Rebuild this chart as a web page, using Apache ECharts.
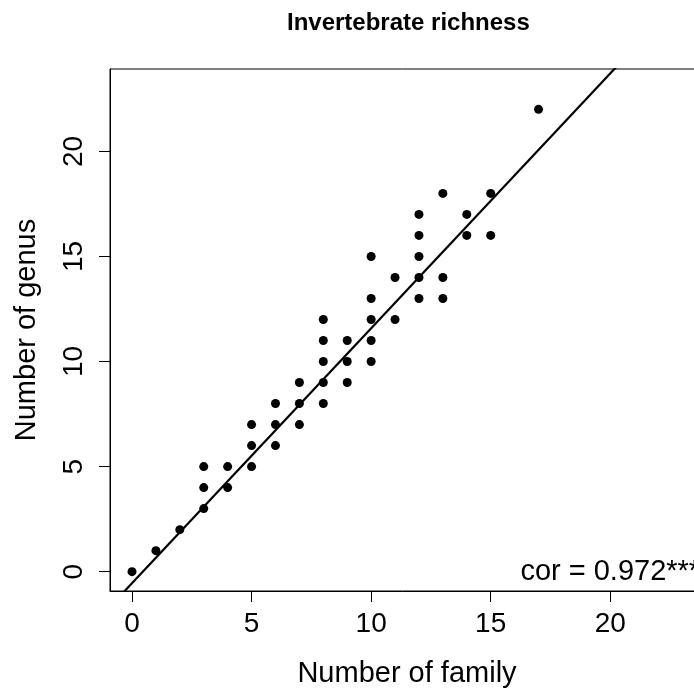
<!DOCTYPE html>
<html>
<head>
<meta charset="utf-8">
<script src="https://cdn.jsdelivr.net/npm/echarts@6/dist/echarts.min.js"></script>
<style>
html,body{margin:0;padding:0;background:#fff;}
#chart{width:694px;height:688px;}
</style>
</head>
<body>
<div id="chart"></div>
<script>
// ---- data ----
const familyCount = [0, 1, 2, 3, 3, 3, 4, 4, 5, 5, 5, 6, 6, 6, 7, 7, 7, 8, 8, 8, 8, 8, 9, 9, 9, 10, 10, 10, 10, 10, 11, 11, 12, 12, 12, 12, 12, 13, 13, 13, 14, 14, 15, 15, 17];
const genusCount  = [0, 1, 2, 3, 4, 5, 4, 5, 5, 6, 7, 6, 7, 8, 7, 8, 9, 8, 9, 10, 11, 12, 9, 10, 11, 10, 11, 12, 13, 15, 12, 14, 13, 14, 15, 16, 17, 13, 14, 18, 16, 17, 16, 18, 22];
const fitIntercept = -0.55;
const fitSlope = 1.213;
const xTicks = [0, 5, 10, 15, 20];
const yTicks = [0, 5, 10, 15, 20];
const axisLimits = [0, 23];
const corText = 'cor = 0.972***';
const corAt = [20, 0];

// R-style 4% axis extension
const ext = (axisLimits[1] - axisLimits[0]) * 0.04;
const lo = axisLimits[0] - ext, hi = axisLimits[1] + ext;

const points = familyCount.map((x, i) => [x, genusCount[i]]);
const fitLine = [lo, hi].map(x => [x, fitIntercept + fitSlope * x]);

const FONT = '"Liberation Sans", Arial, sans-serif';
const chart = echarts.init(document.getElementById('chart'), null, {renderer: 'canvas'});
chart.setOption({
  animation: false,
  backgroundColor: '#fff',
  title: {
    text: 'Invertebrate richness',
    left: 282, top: 6,
    textStyle: {fontSize: 24, fontWeight: 'bold', color: '#000', fontFamily: FONT}
  },
  grid: {
    left: 110, top: 69, width: 594, height: 522,
    show: true, borderColor: '#000', borderWidth: 1,
    containLabel: false, outerBoundsMode: 'none'
  },
  xAxis: {
    type: 'value', min: lo, max: hi,
    splitLine: {show: false},
    axisLine: {show: true, onZero: false, lineStyle: {color: '#000', width: 1}},
    axisTick: {show: true, customValues: xTicks, length: 11, lineStyle: {color: '#000'}},
    axisLabel: {customValues: xTicks, fontSize: 28, color: '#000', margin: 19, fontFamily: FONT},
    name: 'Number of family', nameLocation: 'middle', nameGap: 68,
    nameTextStyle: {fontSize: 29, color: '#000', fontFamily: FONT}
  },
  yAxis: {
    type: 'value', min: lo, max: hi,
    splitLine: {show: false},
    axisLine: {show: true, onZero: false, lineStyle: {color: '#000', width: 1}},
    axisTick: {show: true, customValues: yTicks, length: 11, lineStyle: {color: '#000'}},
    axisLabel: {customValues: yTicks, fontSize: 28, color: '#000', margin: 22, rotate: 90, fontFamily: FONT},
    name: 'Number of genus', nameLocation: 'middle', nameGap: 69, nameRotate: 90,
    nameTextStyle: {fontSize: 29, color: '#000', fontFamily: FONT}
  },
  series: [
    {
      type: 'scatter', data: points, symbol: 'circle', symbolSize: 9,
      itemStyle: {color: '#000', opacity: 1}, silent: true
    },
    {
      type: 'line', data: fitLine, showSymbol: false, clip: true,
      lineStyle: {color: '#000', width: 2.2}, silent: true
    },
    {
      type: 'scatter', data: [corAt], symbolSize: 0, silent: true,
      itemStyle: {opacity: 1},
      label: {show: true, position: 'inside', formatter: corText, fontSize: 29, color: '#000', opacity: 1, fontFamily: FONT}
    }
  ]
});
</script>
</body>
</html>
